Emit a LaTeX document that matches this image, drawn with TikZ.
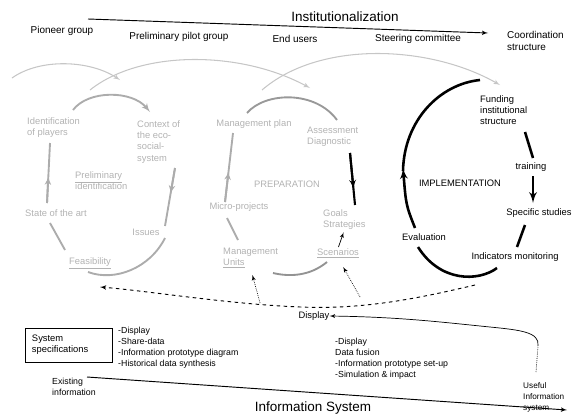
\documentclass[tikz,border=0pt]{standalone}
\usepackage{fontspec}
\setmainfont{Liberation Sans}
\usetikzlibrary{arrows,calc}

\begin{document}
\begin{tikzpicture}[>=latex',x=0.03cm,y=-0.03cm]
    \tikzstyle{lab}=[inner sep=0pt, align=left, font=\fontsize{8}{9.5}\selectfont]
    \tikzstyle{glab}=[lab, text=gray!60]
    \tikzstyle{hdr}=[inner sep=0pt, align=left, font=\fontsize{8.5}{10.5}\selectfont]
    \tikzstyle{big}=[inner sep=0pt, font=\fontsize{11.5}{13}\selectfont]
    \tikzstyle{lst}=[inner sep=0pt, align=left, font=\fontsize{7.5}{9.5}\selectfont]
    \tikzstyle{sky}=[draw=gray!45, line width=0.9pt]
    \tikzstyle{garc}=[draw=gray!65, line width=1.6pt]
    \tikzstyle{barc}=[draw=black, line width=2.2pt]

    \useasboundingbox (0,0) rectangle (572,415);

    % institutionalization axis
    \node[big] (inst) at (345,17) {Institutionalization};
    \coordinate (ia) at (88,19);
    \coordinate (ib) at (488,33);
    \draw[->, line width=0.8pt] (ia) -- (ib);

    \node[hdr] (pio) at (62,31) {Pioneer group};
    \node[hdr] (prel) at (179,37) {Preliminary pilot group};
    \node[hdr] (endu) at (295,39) {End users};
    \node[hdr] (steer) at (418,39) {Steering committee};
    \node[hdr, anchor=west] (coord) at (507,41) {Coordination\\structure};

    % gray hand-over curves
    \coordinate (s1a) at (12,78);  \coordinate (s1b) at (120,80);
    \coordinate (s2a) at (90,90);  \coordinate (s2b) at (310,88);
    \coordinate (s3a) at (262,90); \coordinate (s3b) at (500,85);
    \draw[sky,->] (s1a) .. controls (40,58) and (90,60) .. (s1b);
    \draw[sky,->] (s2a) .. controls (140,50) and (240,50) .. (s2b);
    \draw[sky,->] (s3a) .. controls (320,40) and (430,45) .. (s3b);

    % loop 1: preliminary identification
    \node[glab, anchor=west] (idp) at (27,128) {Identification\\of players};
    \node[glab, anchor=west] (ctx) at (137,142) {Context of\\the eco-\\social-\\system};
    \node[glab, anchor=west] (pid) at (75,181) {\underline{Preliminary}\\identification};
    \node[glab, anchor=west] (sota) at (25,213) {State of the art};
    \node[glab] (feas) at (90,263) {\underline{Feasibility}};
    \node[glab] (iss) at (146,232) {Issues};

    \coordinate (l1a) at (73,110);  \coordinate (l1b) at (150,112);
    \coordinate (l1c) at (175,168); \coordinate (l1d) at (165,226);
    \coordinate (l1e) at (165,238); \coordinate (l1f) at (88,272);
    \coordinate (l1g) at (65,250);  \coordinate (l1h) at (50,223);
    \coordinate (l1i) at (47,203);  \coordinate (l1j) at (50,143);
    \draw[garc,->] (l1a) .. controls (88,90) and (132,90) .. (l1b);
    \draw[garc] (l1c) -- (l1d);
    \draw[garc,->] (l1c) -- ($(l1c)!0.45!(l1d)$);
    \draw[garc] (l1e) .. controls (150,268) and (115,282) .. (l1f);
    \draw[garc] (l1g) -- (l1h);
    \draw[garc] (l1i) -- (l1j);
    \draw[garc,->] (l1i) -- ($(l1i)!0.45!(l1j)$);

    % loop 2: preparation
    \node[glab] (mplan) at (254,124) {Management plan};
    \node[glab, anchor=west] (assess) at (307,137) {Assessment\\Diagnostic};
    \node[glab] (prep) at (287,184) {PREPARATION};
    \node[glab] (micro) at (239,207) {Micro-projects};
    \node[glab, anchor=west] (goals) at (323,220) {Goals\\Strategies};
    \node[glab, anchor=west] (scen) at (317,253) {\underline{Scenarios}};
    \node[glab, anchor=west] (mu) at (223,258) {Management\\\underline{Units}};

    \coordinate (l2a) at (247,113); \coordinate (l2b) at (337,120);
    \coordinate (l2c) at (350,153); \coordinate (l2d) at (355,205);
    \coordinate (l2e) at (327,262); \coordinate (l2f) at (273,273);
    \coordinate (l2g) at (238,240); \coordinate (l2h) at (227,218);
    \coordinate (l2i) at (225,202); \coordinate (l2j) at (233,133);
    \draw[garc, draw=gray!80] (l2a) .. controls (265,92) and (315,90) .. (l2b);
    \draw[line width=1.8pt] (l2c) -- (l2d);
    \draw[line width=1.8pt,->] (l2c) -- ($(l2c)!0.7!(l2d)$);
    \draw[garc, draw=gray!85] (l2e) .. controls (310,276) and (290,277) .. (l2f);
    \draw[garc] (l2g) -- (l2h);
    \draw[garc] (l2i) -- (l2j);
    \draw[garc,->] (l2i) -- ($(l2i)!0.45!(l2j)$);
    \draw[->, line width=0.6pt, shorten <=1pt, shorten >=2pt] (scen.north) -- (goals.south);

    % loop 3: implementation
    \node[lab, anchor=west] (fund) at (480,110) {Funding\\institutional\\structure};
    \node[lab] (train) at (531,167) {training};
    \node[lab] (impl) at (460,183) {IMPLEMENTATION};
    \node[lab] (spec) at (539,213) {Specific studies};
    \node[lab] (eval) at (424,237) {Evaluation};
    \node[lab] (ind) at (515,257) {Indicators monitoring};

    \coordinate (l3a) at (415,228); \coordinate (l3b) at (403,168);
    \coordinate (l3c) at (480,80);
    \coordinate (l3d) at (525,132); \coordinate (l3e) at (533,158);
    \coordinate (l3f) at (533,176); \coordinate (l3g) at (533,203);
    \coordinate (l3h) at (525,225); \coordinate (l3i) at (517,247);
    \coordinate (l3j) at (497,268); \coordinate (l3k) at (418,247);
    \draw[barc,->] (l3a) .. controls (406,205) .. (l3b);
    \draw[barc] ($(l3b)+(0,3)$) .. controls (404,120) and (440,84) .. (l3c);
    \draw[barc] (l3d) -- (l3e);
    \draw[barc,->] (l3f) -- (l3g);
    \draw[barc] (l3h) -- (l3i);
    \draw[barc] (l3j) .. controls (478,282) and (440,282) .. (l3k);

    % display and feedback
    \node[lab] (disp) at (314,316) {Display};
    \coordinate (da) at (475,285);
    \coordinate (db) at (100,287);
    \draw[dashed, line width=0.8pt, ->] (da) .. controls (420,298) and (370,308) .. ($(disp.north)+(0,-4)$)
        .. controls (240,306) and (150,291) .. (db);
    \coordinate (dm) at (260,303);
    \coordinate (ds) at (360,297);
    \draw[densely dotted, ->, line width=0.6pt, shorten >=6pt] (dm) -- (mu.south);
    \draw[densely dotted, ->, line width=0.6pt, shorten >=9pt] (ds) -- (scen.south);

    % system specifications
    \node[lab, draw, line width=0.5pt, text width=2.19cm, inner xsep=0.21cm, inner ysep=4pt,
          minimum height=1.02cm] (sys) at (68.5,345) {System\\specifications};
    \node[lst, anchor=west] (sysl) at (118,348) {-Display\\-Share-data\\-Information prototype diagram\\-Historical data synthesis};
    \node[lst, anchor=west] (fusl) at (335,359) {-Display\\Data fusion\\-Information prototype set-up\\-Simulation \& impact};

    % information system axis
    \node[lst, anchor=west] (exist) at (52,387) {Existing\\information};
    \node[big] (infs) at (313,408) {Information System};
    \node[lst, anchor=west, font=\fontsize{7}{9.5}\selectfont] (usef) at (523,397) {Useful\\Information\\system};
    \coordinate (ea) at (87,377);
    \coordinate (eb) at (567,410);
    \draw[->, line width=0.8pt] (ea) -- (eb);

    \coordinate (ua) at (536,372);
    \coordinate (ub) at (538,346);
    \draw[densely dotted, line width=0.6pt] (ua) -- (ub);
    \draw[->, line width=0.6pt] (ub) .. controls (540,332) and (520,330) .. (490,327)
        .. controls (440,322) and (400,317) .. (disp.east);
\end{tikzpicture}
\end{document}
